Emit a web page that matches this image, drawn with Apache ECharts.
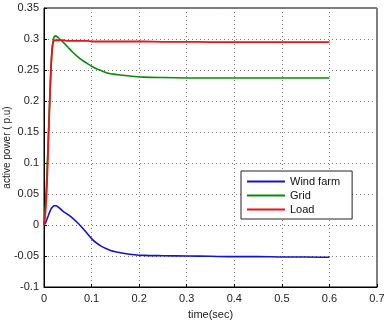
<!DOCTYPE html>
<html>
<head>
<meta charset="utf-8">
<script src="https://cdn.jsdelivr.net/npm/echarts@6/dist/echarts.min.js"></script>
<style>
  html, body { margin: 0; padding: 0; background: #fff; }
  #chart { width: 384px; height: 330px; }
</style>
</head>
<body>
<div id="chart"></div>
<script>
// time axis (sec), shared by all three curves
const timeSec = [0, 0.003, 0.006, 0.009, 0.012, 0.015, 0.018, 0.021, 0.025, 0.03,
  0.04, 0.05, 0.06, 0.07, 0.08, 0.09, 0.1, 0.11, 0.12, 0.13, 0.14, 0.15,
  0.17, 0.19, 0.21, 0.25, 0.3, 0.35, 0.4, 0.45, 0.5, 0.55, 0.6]

// active power (p.u)
const windFarm = [0, 0.003, 0.009, 0.015, 0.021, 0.026, 0.029, 0.031, 0.031, 0.029,
  0.022, 0.017, 0.011, 0.004, -0.004, -0.013, -0.022, -0.029, -0.034, -0.038, -0.041, -0.043,
  -0.046, -0.048, -0.049, -0.0495, -0.050, -0.0505, -0.051, -0.051, -0.0515, -0.0515, -0.052]

const gridPower = [0, 0.03, 0.08, 0.14, 0.2, 0.255, 0.29, 0.303, 0.305, 0.302,
  0.295, 0.287, 0.279, 0.272, 0.266, 0.261, 0.256, 0.252, 0.249, 0.246, 0.244, 0.243,
  0.241, 0.2395, 0.2385, 0.2378, 0.2372, 0.237, 0.237, 0.237, 0.237, 0.237, 0.237]

const loadPower = [0, 0.02, 0.06, 0.13, 0.2, 0.26, 0.29, 0.297, 0.298, 0.298,
  0.298, 0.297, 0.297, 0.297, 0.297, 0.297, 0.296, 0.296, 0.296, 0.296, 0.296, 0.296,
  0.296, 0.296, 0.296, 0.2955, 0.2955, 0.295, 0.295, 0.295, 0.295, 0.295, 0.295]

const seriesNames = ['Wind farm', 'Grid', 'Load']
const seriesColors = ['#1414c8', '#0a8a0a', '#e8141c']

const pair = (vals) => timeSec.map((t, i) => [t, vals[i]])

const chart = echarts.init(document.getElementById('chart'), null, { renderer: 'canvas' })

const axisText = { color: '#222', fontSize: 11, fontFamily: 'Liberation Sans, Arial, sans-serif' }
const dotted = { show: true, lineStyle: { color: '#777', type: [1, 3], width: 1 } }

const option = {
  animation: false,
  backgroundColor: '#fff',
  grid: {
    left: 44, top: 8, right: 7, bottom: 43,
    outerBoundsMode: 'none',
    containLabel: false,
    show: true, borderColor: '#000', borderWidth: 1, backgroundColor: '#fff'
  },
  legend: {
    data: seriesNames,
    orient: 'vertical',
    left: 241, top: 171,
    padding: [5, 12, 4, 6],
    itemGap: 3,
    itemWidth: 38, itemHeight: 2,
    icon: 'rect',
    backgroundColor: '#fff',
    borderColor: '#222', borderWidth: 1,
    textStyle: { color: '#111', fontSize: 11, fontFamily: 'Liberation Sans, Arial, sans-serif' }
  },
  xAxis: {
    type: 'value',
    min: 0, max: 0.7, interval: 0.1,
    name: 'time(sec)',
    nameLocation: 'middle',
    nameGap: 22,
    nameMoveOverlap: false,
    nameTextStyle: axisText,
    axisLine: { show: true, onZero: false, lineStyle: { color: '#000' } },
    axisTick: { show: true, inside: true, length: 3, lineStyle: { color: '#000' } },
    axisLabel: { ...axisText, margin: 6, formatter: (v) => String(+v.toFixed(1)) },
    splitLine: dotted
  },
  yAxis: {
    type: 'value',
    min: -0.1, max: 0.35, interval: 0.05,
    name: 'active power ( p.u)',
    nameLocation: 'middle',
    nameGap: 32,
    nameMoveOverlap: false,
    nameTextStyle: { ...axisText, fontSize: 10 },
    axisLine: { show: true, onZero: false, lineStyle: { color: '#000' } },
    axisTick: { show: true, inside: true, length: 3, lineStyle: { color: '#000' } },
    axisLabel: { ...axisText, margin: 5, formatter: (v) => String(+v.toFixed(2)) },
    splitLine: dotted
  },
  series: [
    { name: seriesNames[0], type: 'line', data: pair(windFarm), smooth: 0.3, symbol: 'none',
      lineStyle: { width: 1.6, color: seriesColors[0] }, itemStyle: { color: seriesColors[0] } },
    { name: seriesNames[1], type: 'line', data: pair(gridPower), smooth: 0.3, symbol: 'none',
      lineStyle: { width: 1.6, color: seriesColors[1] }, itemStyle: { color: seriesColors[1] } },
    { name: seriesNames[2], type: 'line', data: pair(loadPower), smooth: 0.2, symbol: 'none',
      lineStyle: { width: 1.8, color: seriesColors[2] }, itemStyle: { color: seriesColors[2] } }
  ]
}

chart.setOption(option)
</script>
</body>
</html>
